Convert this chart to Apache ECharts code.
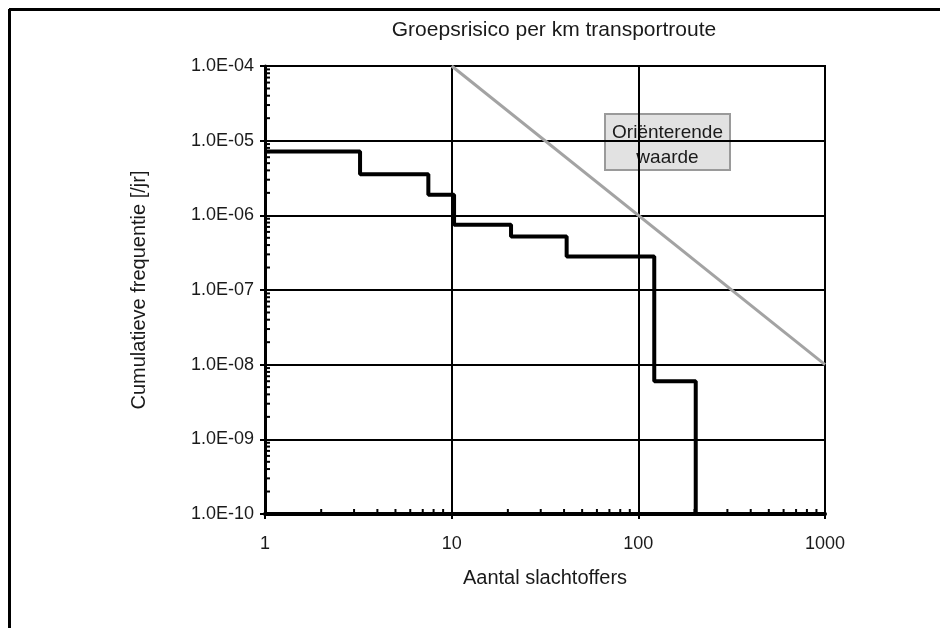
<!DOCTYPE html>
<html>
<head>
<meta charset="utf-8">
<script src="https://cdn.jsdelivr.net/npm/echarts@6/dist/echarts.min.js"></script>
<style>
html,body{margin:0;padding:0;background:#fff;}
#c{width:940px;height:628px;}
</style>
</head>
<body>
<div id="c"></div>
<script>
// ---- data ----
var titleText = 'Groepsrisico per km transportroute';
var xAxisName = 'Aantal slachtoffers';
var yAxisName = 'Cumulatieve frequentie [/jr]';
var refLabel = 'Oriënterende\nwaarde';

// step curve (FN curve): corner points, horizontal first then drop
var stepX = [1, 3.23, 7.5, 10.3, 20.8, 41.3, 121.7, 203];
var stepY = [7.15e-6, 3.56e-6, 1.88e-6, 7.5e-7, 5.2e-7, 2.82e-7, 6.0e-9, 1e-10];

// orienterende waarde line
var refX = [10, 1000];
var refY = [1e-4, 1e-8];

// minor tick positions
var minorX = [2,3,4,5,6,7,8,9,20,30,40,50,60,70,80,90,200,300,400,500,600,700,800,900];
var minorY = [2e-10,3e-10,4e-10,5e-10,6e-10,7e-10,8e-10,9e-10,
              2e-9,3e-9,4e-9,5e-9,6e-9,7e-9,8e-9,9e-9,
              2e-8,3e-8,4e-8,5e-8,6e-8,7e-8,8e-8,9e-8,
              2e-7,3e-7,4e-7,5e-7,6e-7,7e-7,8e-7,9e-7,
              2e-6,3e-6,4e-6,5e-6,6e-6,7e-6,8e-6,9e-6,
              2e-5,3e-5,4e-5,5e-5,6e-5,7e-5,8e-5,9e-5];

var xMin = 1, xMax = 1000, yMin = 1e-10, yMax = 1e-4;

var FONT = '"Liberation Sans", Arial, sans-serif';
var TXT = '#1a1a1a';

function zip(a, b) { return a.map(function (v, i) { return [v, b[i]]; }); }

var chart = echarts.init(document.getElementById('c'), null, {renderer: 'canvas'});

var option = {
  backgroundColor: '#ffffff',
  animation: false,
  title: {
    text: titleText,
    left: 549, top: 15, textAlign: 'center',
    textStyle: {fontFamily: FONT, fontSize: 21, fontWeight: 'normal', color: TXT}
  },
  grid: {
    left: 265, right: 115, top: 66, bottom: 114,
    show: true, borderColor: '#000', borderWidth: 2, backgroundColor: 'transparent'
  },
  xAxis: {
    type: 'log', logBase: 10, min: xMin, max: xMax,
    name: xAxisName, nameLocation: 'middle', nameGap: 54,
    nameTextStyle: {fontFamily: FONT, fontSize: 20, color: TXT},
    axisLine: {show: true, lineStyle: {color: '#000', width: 4}},
    axisTick: {show: true, inside: false, length: 5, lineStyle: {color: '#000', width: 2}},
    axisLabel: {fontFamily: FONT, fontSize: 18, color: TXT, margin: 21,
      formatter: function (v) { return String(Math.round(v)); }},
    splitLine: {show: true, lineStyle: {color: '#000', width: 2}},
    minorTick: {show: false}
  },
  yAxis: {
    type: 'log', logBase: 10, min: yMin, max: yMax,
    name: yAxisName, nameLocation: 'middle', nameGap: 116,
    nameTextStyle: {fontFamily: FONT, fontSize: 20, color: TXT},
    axisLine: {show: true, lineStyle: {color: '#000', width: 3}},
    axisTick: {show: true, inside: false, length: 5, lineStyle: {color: '#000', width: 2}},
    axisLabel: {fontFamily: FONT, fontSize: 18, color: TXT, margin: 11,
      formatter: function (v) {
        var e = Math.round(Math.log10(v));
        var a = Math.abs(e);
        return '1.0E' + (e < 0 ? '-' : '+') + (a < 10 ? '0' : '') + a;
      }},
    splitLine: {show: true, lineStyle: {color: '#000', width: 2}}
  },
  graphic: [
    {type: 'line', shape: {x1: 9, y1: 9.5, x2: 940, y2: 9.5}, style: {stroke: '#000', lineWidth: 3}, z: 100},
    {type: 'line', shape: {x1: 9.5, y1: 9, x2: 9.5, y2: 628}, style: {stroke: '#000', lineWidth: 3}, z: 100},
    {
      type: 'group', left: 604, top: 113, z: 100,
      children: [
        {type: 'rect', shape: {x: 0, y: 0, width: 125, height: 56},
          style: {fill: '#e2e2e2', stroke: '#9a9a9a', lineWidth: 2}},
        {type: 'text', x: 62.5, y: 31,
          style: {text: refLabel, fontFamily: FONT, fontSize: 19, fill: TXT,
            textAlign: 'center', textVerticalAlign: 'middle', lineHeight: 25}}
      ]
    }
  ],
  series: [
    {
      type: 'line', name: 'ref', data: zip(refX, refY),
      showSymbol: false, silent: true, z: 3,
      lineStyle: {color: '#a3a3a3', width: 3}
    },
    {
      type: 'line', name: 'fn', data: zip(stepX, stepY), step: 'end',
      showSymbol: false, silent: true, z: 5,
      lineStyle: {color: '#000', width: 4}
    },
    {
      type: 'custom', name: 'minorX', silent: true, z: 6, clip: false,
      data: minorX.map(function (v) { return [v, yMin]; }),
      renderItem: function (params, api) {
        var p = api.coord([api.value(0), api.value(1)]);
        return {type: 'line', shape: {x1: p[0], y1: p[1], x2: p[0], y2: p[1] - 5},
          style: {stroke: '#000', lineWidth: 2}};
      }
    },
    {
      type: 'custom', name: 'minorY', silent: true, z: 6, clip: false,
      data: minorY.map(function (v) { return [xMin, v]; }),
      renderItem: function (params, api) {
        var p = api.coord([api.value(0), api.value(1)]);
        return {type: 'line', shape: {x1: p[0], y1: p[1], x2: p[0] + 5, y2: p[1]},
          style: {stroke: '#000', lineWidth: 2}};
      }
    }
  ]
};
chart.setOption(option);
</script>
</body>
</html>
